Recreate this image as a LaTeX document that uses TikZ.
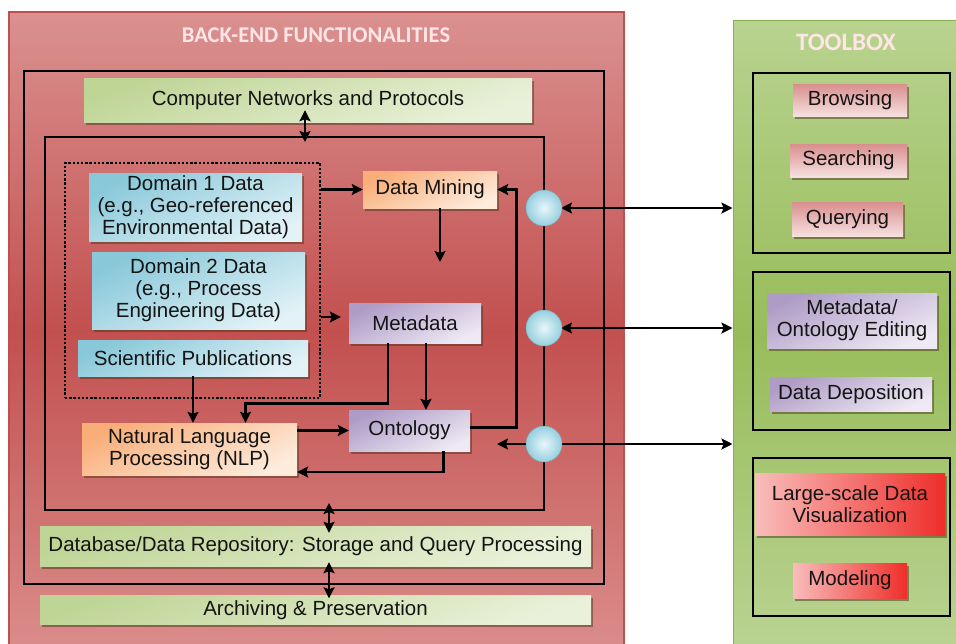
\documentclass[tikz,border=0pt]{standalone}
\usepackage{fontspec}
\setmainfont{Liberation Sans}
\newfontfamily\titlefont{Carlito}
\usetikzlibrary{arrows.meta,shadows,calc}
\definecolor{redT}{HTML}{DA9190}
\definecolor{redM}{HTML}{C2504F}
\definecolor{redB}{HTML}{DA8D8B}
\definecolor{redE}{HTML}{C0504D}
\definecolor{tbT}{HTML}{B8D38F}
\definecolor{tbM}{HTML}{98BC5A}
\definecolor{tbB}{HTML}{B9D392}
\definecolor{tbE}{HTML}{8AAE4C}
\definecolor{grA}{HTML}{BFD596}
\definecolor{grB}{HTML}{EAF1DA}
\definecolor{cyA}{HTML}{88C8D9}
\definecolor{cyB}{HTML}{E2F2F7}
\definecolor{orA}{HTML}{F9AE78}
\definecolor{orB}{HTML}{FDEBDC}
\definecolor{puA}{HTML}{AF9CC6}
\definecolor{puB}{HTML}{EEE9F4}
\definecolor{pkA}{HTML}{D88F8E}
\definecolor{pkB}{HTML}{F6E0DF}
\definecolor{rdA}{HTML}{F9BDBB}
\definecolor{rdB}{HTML}{EE2E2A}
\definecolor{ciA}{HTML}{E8F6FA}
\definecolor{ciB}{HTML}{95CFDE}
\definecolor{txt}{HTML}{141414}
\tikzset{
  box/.style={inner sep=0pt, align=center, text=txt,
    font=\fontsize{20.5}{22}\selectfont,
    drop shadow={shadow xshift=2pt, shadow yshift=-2.5pt, opacity=0.5, fill=black!60!brown}},
  greenbox/.style={box, top color=grA, bottom color=grB, shading angle=20},
  cyanbox/.style={box, top color=cyA, bottom color=cyB, shading angle=25},
  orangebox/.style={box, top color=orA, bottom color=orB, shading angle=25},
  purplebox/.style={box, top color=puA, bottom color=puB, shading angle=25},
  pinkbox/.style={box, top color=pkA, bottom color=pkB},
  redbox/.style={box, left color=rdA, right color=rdB},
  frame/.style={draw=black, line width=2pt, inner sep=0pt},
  hub/.style={circle, minimum size=36pt, inner sep=0pt, draw=ciB!85!black, line width=0.5pt,
    shading=radial, inner color=ciA, outer color=ciB},
  tip/.tip={Stealth[length=11pt,width=11pt,inset=2pt]},
  arr/.style={-tip, line width=2.8pt},
  dbl/.style={tip-tip, line width=2.8pt},
  heading/.style={text=white!90!red, font=\titlefont\bfseries}
}
\begin{document}
\begin{tikzpicture}[x=1pt,y=-1pt]
\clip (0,0) rectangle (956,643);
\fill[white] (0,0) rectangle (956,643);
% panels
\node[inner sep=0pt, minimum width=615pt, minimum height=638pt, draw=redE, line width=1.5pt,
  top color=redT, bottom color=redB, middle color=redM] (red) at (316.5,331) {};
\node[inner sep=0pt, minimum width=232pt, minimum height=630pt, draw=tbE, line width=1pt,
  top color=tbT, bottom color=tbB, middle color=tbM] (tb) at (849,335) {};
\node[heading] (t1) at (316,35) {\fontsize{22.5}{24}\selectfont BACK-END FUNCTIONALITIES};
\node[heading] (t2) at (846,42) {\fontsize{25}{26}\selectfont TOOLBOX};
% frames
\node[frame, minimum width=580pt, minimum height=513pt] (outer) at (314,327.5) {};
\node[frame, minimum width=499pt, minimum height=373pt] (inner) at (294.5,323.5) {};
\node[draw=black, line width=2.4pt, dash pattern=on 2.4pt off 1.8pt, inner sep=0pt,
  minimum width=255pt, minimum height=235pt] (dotted) at (192.5,280.5) {};
\node[frame, minimum width=197pt, minimum height=180pt] (sb1) at (851.5,163) {};
\node[frame, minimum width=197pt, minimum height=158pt] (sb2) at (851.5,351) {};
\node[frame, minimum width=197pt, minimum height=158pt] (sb3) at (851.5,537) {};
% back-end boxes
\node[greenbox, minimum width=448pt, minimum height=44pt] (cn) at (308,100) {Computer Networks and Protocols};
\node[greenbox, minimum width=551pt, minimum height=40pt] (db) at (315.5,546) {Database/Data Repository: Storage and Query Processing};
\node[greenbox, minimum width=551pt, minimum height=29pt] (ar) at (315.5,610) {Archiving \& Preservation};
\node[cyanbox, minimum width=213pt, minimum height=68pt] (d1) at (195.5,207) {Domain 1 Data\\(e.g., Geo-referenced\\Environmental Data)};
\node[cyanbox, minimum width=213pt, minimum height=77pt] (d2) at (198.5,290.5) {Domain 2 Data\\(e.g., Process\\Engineering Data)};
\node[cyanbox, minimum width=230pt, minimum height=36pt] (sp) at (193,358) {Scientific Publications};
\node[orangebox, minimum width=134pt, minimum height=37pt] (dm) at (430,189.5) {Data Mining};
\node[purplebox, minimum width=132pt, minimum height=40pt] (md) at (415,323) {Metadata};
\node[purplebox, minimum width=121pt, minimum height=41pt] (on) at (409.5,430.5) {Ontology};
\node[orangebox, minimum width=215pt, minimum height=52pt] (nlp) at (189.5,449) {Natural Language\\Processing (NLP)};
% toolbox boxes
\node[pinkbox, minimum width=114pt, minimum height=32pt] (br) at (850,100) {Browsing};
\node[pinkbox, minimum width=117pt, minimum height=33pt] (se) at (848.5,160.5) {Searching};
\node[pinkbox, minimum width=111pt, minimum height=34pt] (qu) at (847.5,219) {Querying};
\node[purplebox, minimum width=170pt, minimum height=55pt] (me) at (852,320.5) {Metadata/\\Ontology Editing};
\node[purplebox, minimum width=162pt, minimum height=34pt] (dd) at (851,394) {Data Deposition};
\node[redbox, minimum width=190pt, minimum height=62pt] (lv) at (850,504) {Large-scale Data\\Visualization};
\node[redbox, minimum width=114pt, minimum height=35pt] (mo) at (850,580.5) {Modeling};
% hubs (positions)
\coordinate (h1) at (544,208);
\coordinate (h2) at (544,328);
\coordinate (h3) at (544,444);
\coordinate (dmend) at (440,262);
\coordinate (h3out) at (497,444);
% connectors
\draw[dbl, shorten <=-12pt, shorten >=-6pt] (cn.south -| 305,0) -- (305,0 |- inner.north);
\draw[dbl, shorten <=-8pt, shorten >=-7pt] (329,0 |- inner.south) -- (329,0 |- db.north);
\draw[dbl, shorten <=-4pt, shorten >=-3pt] (329,0 |- db.south) -- (329,0 |- ar.north);
\draw[arr] (dotted.east |- dm.west) -- (dm.west);
\draw[arr, shorten >=8pt] (dotted.east |- 0,317) -- (md.west |- 0,317);
\draw[arr] (dm.south -| dmend) -- (dmend);
\draw[arr] (sp.south) -- (sp.south |- nlp.north);
\draw[arr] ([xshift=-27pt]md.south) -- ++(0,60) -| ([xshift=56pt]nlp.north);
\draw[arr] ([xshift=11pt]md.south) -- ([xshift=11pt]md.south |- on.north);
\draw[arr] (nlp.east |- on.west) -- (on.west);
\draw[arr] ([xshift=34pt]on.south) |- (nlp.east |- 0,472);
\draw[arr] ([yshift=3pt]on.east) -| ([xshift=19pt]dm.east) -- (dm.east);
\draw[dbl, shorten <=17pt] (h1) -- (h1 -| tb.west);
\draw[dbl, shorten <=17pt] (h2) -- (h2 -| tb.west);
\draw[arr, shorten <=17pt] (h3) -- (h3out);
\draw[arr, shorten <=17pt] (h3) -- (h3 -| tb.west);
\node[hub] (c1) at (h1) {};
\node[hub] (c2) at (h2) {};
\node[hub] (c3) at (h3) {};
\end{tikzpicture}
\end{document}
